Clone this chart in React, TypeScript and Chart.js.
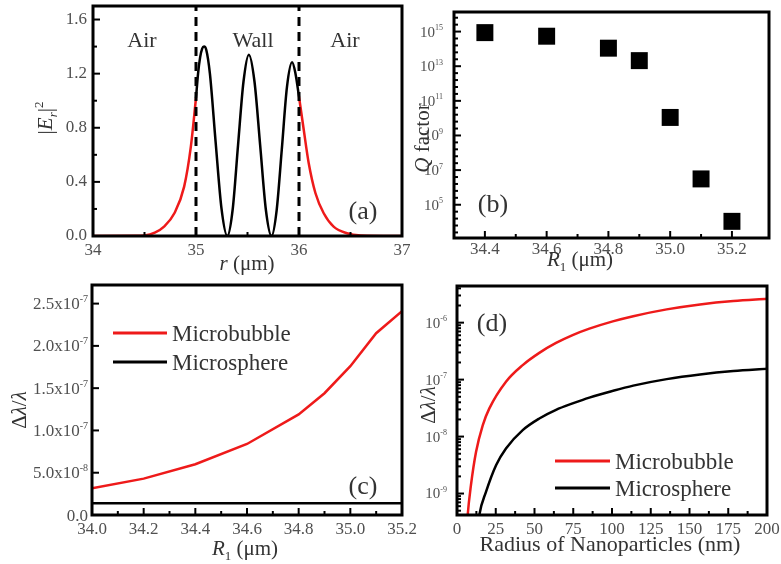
import React, { useEffect, useRef } from 'react';
import { Chart, registerables } from 'chart.js';
Chart.register(...registerables);

const FONT = '"Liberation Serif", "Times New Roman", serif';
const RED = '#ee1a1a';
const BLACK = '#000000';
const INK = '#333333';
const TICK_INK = '#505050';

// ---------- Panel (a): |E_r|^2 vs r ----------
const aRedLeftR = [34.0, 34.4, 34.5, 34.6, 34.69, 34.79, 34.885, 34.95, 35.0];
const aRedLeftE = [0, 0.001, 0.004, 0.025, 0.07, 0.168, 0.365, 0.66, 1.02];
const aRedRightR = [36.0, 36.046, 36.094, 36.16, 36.24, 36.336, 36.466, 36.6, 37.0];
const aRedRightE = [1.03, 0.785, 0.54, 0.316, 0.168, 0.069, 0.02, 0.004, 0];
const aWallR = [35.0, 35.02, 35.04, 35.06, 35.078, 35.1, 35.135, 35.19, 35.248, 35.304, 35.356, 35.408, 35.461, 35.513, 35.568, 35.623, 35.678, 35.733, 35.783, 35.833, 35.883, 35.933, 35.966, 36.0];
const aWallE = [1.02, 1.2, 1.32, 1.385, 1.4, 1.375, 1.2, 0.7, 0.2, 0.0, 0.196, 0.67, 1.14, 1.34, 1.14, 0.67, 0.196, 0.0, 0.19, 0.64, 1.1, 1.284, 1.2, 1.03];
const aBoundaries = [35, 36];
const aXTicks = [34, 35, 36, 37];
const aXLabels = ['34', '35', '36', '37'];
const aYTicks = [0, 0.4, 0.8, 1.2, 1.6];
const aYLabels = ['0.0', '0.4', '0.8', '1.2', '1.6'];

// ---------- Panel (b): Q factor vs R1 ----------
const bR1 = [34.4, 34.6, 34.8, 34.9, 35.0, 35.1, 35.2];
const bQ = [8.7e14, 5.4e14, 1.1e14, 2.1e13, 1.1e10, 3.1e6, 1.1e4];
const bXTicks = [34.4, 34.6, 34.8, 35.0, 35.2];
const bXLabels = ['34.4', '34.6', '34.8', '35.0', '35.2'];
const bYTicks = [1e5, 1e7, 1e9, 1e11, 1e13, 1e15];
const bYLabels = ['10^5', '10^7', '10^9', '10^11', '10^13', '10^15'];

// ---------- Panel (c): Δλ/λ vs R1 ----------
const cR1 = [34.0, 34.2, 34.4, 34.6, 34.8, 34.9, 35.0, 35.1, 35.2];
const cBubble = [3.15e-8, 4.3e-8, 6.0e-8, 8.4e-8, 1.19e-7, 1.44e-7, 1.76e-7, 2.15e-7, 2.41e-7];
const cSphere = [1.4e-8, 1.4e-8, 1.4e-8, 1.4e-8, 1.4e-8, 1.4e-8, 1.4e-8, 1.4e-8, 1.4e-8];
const cXTicks = [34.0, 34.2, 34.4, 34.6, 34.8, 35.0, 35.2];
const cXLabels = ['34.0', '34.2', '34.4', '34.6', '34.8', '35.0', '35.2'];
const cYTicks = [0, 5e-8, 1e-7, 1.5e-7, 2e-7, 2.5e-7];
const cYLabels = ['0.0', '5.0x10^-8', '1.0x10^-7', '1.5x10^-7', '2.0x10^-7', '2.5x10^-7'];

// ---------- Panel (d): Δλ/λ vs nanoparticle radius ----------
const dBubbleR = [5.5, 6.9, 9.0, 12.3, 16.6, 20.8, 31.6, 42.4, 53.1, 63.9, 74.6, 85.4, 100.5, 113.7, 135.3, 156.8, 178.3, 200];
const dBubble = [1e-10, 4.2e-10, 1.4e-9, 5.4e-9, 1.58e-8, 3.1e-8, 9.2e-8, 1.8e-7, 2.95e-7, 4.4e-7, 6.05e-7, 7.85e-7, 1.054e-6, 1.3e-6, 1.71e-6, 2.09e-6, 2.4e-6, 2.62e-6];
const dSphereR = [13.0, 14.4, 18.7, 25.2, 31.6, 42.4, 53.1, 63.9, 74.6, 85.4, 100.5, 113.7, 135.3, 156.8, 178.3, 200];
const dSphere = [2e-10, 4.2e-10, 1.07e-9, 3.15e-9, 6.2e-9, 1.3e-8, 2.08e-8, 2.95e-8, 3.82e-8, 4.84e-8, 6.35e-8, 7.85e-8, 1.02e-7, 1.23e-7, 1.41e-7, 1.545e-7];
const dXTicks = [0, 25, 50, 75, 100, 125, 150, 175, 200];
const dXLabels = ['0', '25', '50', '75', '100', '125', '150', '175', '200'];
const dYTicks = [1e-9, 1e-8, 1e-7, 1e-6];
const dYLabels = ['10^-9', '10^-8', '10^-7', '10^-6'];

const pts = (xs: number[], ys: number[]) => xs.map((x, i) => ({ x, y: ys[i] }));

type Seg = { t: string; i?: boolean; sub?: boolean; sup?: boolean };
type TextItem = { segs: Seg[]; x: number; y: number; size: number; rot?: boolean; align?: 'center' | 'left' | 'right'; color?: string; supScale?: number };
type LegendItem = { ds: number; x1: number; x2: number; y: number; tx: number };

interface Spec {
  x: number; y: number; w: number; h: number;
  area: { l: number; t: number; r: number; b: number };
  xPad: number; yPad: number; xFont: number; yFont: number;
  richY?: { values: number[]; labels: string[]; supScale: number };
  texts: TextItem[];
  legend: LegendItem[];
  xMajor: number[]; xMinor: number[];
  yMajor: number[]; yMinor: number[];
}

function drawRich(ctx: CanvasRenderingContext2D, it: TextItem, ox: number, oy: number) {
  ctx.save();
  ctx.translate(it.x - ox, it.y - oy);
  if (it.rot) ctx.rotate(-Math.PI / 2);
  const ss = it.supScale || 0.62;
  const fontFor = (s: Seg) => `${s.i ? 'italic ' : ''}${s.sub || s.sup ? Math.round(it.size * ss) : it.size}px ${FONT}`;
  let total = 0;
  const widths = it.segs.map((s) => {
    ctx.font = fontFor(s);
    const w = ctx.measureText(s.t).width;
    total += w;
    return w;
  });
  let x = it.align === 'left' ? 0 : it.align === 'right' ? -total : -total / 2;
  ctx.textBaseline = 'alphabetic';
  ctx.textAlign = 'left';
  ctx.fillStyle = it.color || INK;
  it.segs.forEach((s, k) => {
    ctx.font = fontFor(s);
    const dy = s.sub ? it.size * 0.22 : s.sup ? -it.size * 0.42 : 0;
    ctx.fillText(s.t, x, it.size * 0.33 + dy);
    x += widths[k];
  });
  ctx.restore();
}

function decor(spec: Spec) {
  return {
    id: 'decor',
    afterDatasetsDraw(chart: any) {
      const ctx: CanvasRenderingContext2D = chart.ctx;
      const a = chart.chartArea;
      const xs = chart.scales.x;
      const ys = chart.scales.y;
      ctx.save();
      ctx.strokeStyle = '#000';
      ctx.lineWidth = 2;
      const seg = (x1: number, y1: number, x2: number, y2: number) => {
        ctx.beginPath();
        ctx.moveTo(x1, y1);
        ctx.lineTo(x2, y2);
        ctx.stroke();
      };
      spec.xMajor.forEach((v) => { const p = xs.getPixelForValue(v); seg(p, a.bottom, p, a.bottom - 7); });
      spec.xMinor.forEach((v) => { const p = xs.getPixelForValue(v); seg(p, a.bottom, p, a.bottom - 4); });
      spec.yMajor.forEach((v) => { const p = ys.getPixelForValue(v); if (p >= a.top && p <= a.bottom) seg(a.left, p, a.left + 7, p); });
      spec.yMinor.forEach((v) => { const p = ys.getPixelForValue(v); if (p >= a.top && p <= a.bottom) seg(a.left, p, a.left + 4, p); });
      ctx.lineWidth = 3;
      ctx.strokeRect(a.left, a.top, a.right - a.left, a.bottom - a.top);
      if (spec.richY) {
        const ry = spec.richY;
        ry.values.forEach((v, i) => {
          const [base, exp] = ry.labels[i].split('^');
          const segs: Seg[] = [{ t: base }];
          if (exp) segs.push({ t: exp, sup: true });
          drawRich(ctx, {
            segs, x: a.left - spec.yPad + spec.x, y: ys.getPixelForValue(v) + spec.y,
            size: spec.yFont, align: 'right', color: TICK_INK, supScale: ry.supScale,
          }, spec.x, spec.y);
        });
      }
      spec.legend.forEach((lg) => {
        const ds = chart.data.datasets[lg.ds];
        ctx.strokeStyle = ds.borderColor;
        ctx.lineWidth = 3;
        seg(lg.x1 - spec.x, lg.y - spec.y, lg.x2 - spec.x, lg.y - spec.y);
        drawRich(ctx, { segs: [{ t: ds.label }], x: lg.tx, y: lg.y, size: 23, align: 'left' }, spec.x, spec.y);
      });
      spec.texts.forEach((t) => drawRich(ctx, t, spec.x, spec.y));
      ctx.restore();
    },
  };
}

function axis(spec: Spec, horizontal: boolean, values: number[], labels: string[], extra: any) {
  const hideLabels = !horizontal && !!spec.richY;
  return {
    ...extra,
    grid: { display: false, drawTicks: false },
    border: { display: false },
    afterBuildTicks: (s: any) => { s.ticks = values.map((v) => ({ value: v })); },
    afterFit: (s: any) => {
      if (horizontal) s.height = spec.y + spec.h - spec.area.b;
      else s.width = spec.area.l - spec.x;
      s.paddingTop = 0; s.paddingBottom = 0; s.paddingLeft = 0; s.paddingRight = 0;
    },
    ticks: {
      display: !hideLabels,
      callback: (_v: any, i: number) => labels[i],
      font: { family: FONT, size: horizontal ? spec.xFont : spec.yFont },
      color: TICK_INK,
      padding: horizontal ? spec.xPad : spec.yPad,
      maxRotation: 0,
      autoSkip: false,
    },
  };
}

function baseOptions(spec: Spec, xs: any, ys: any) {
  return {
    responsive: false,
    maintainAspectRatio: false,
    animation: false,
    devicePixelRatio: 1,
    layout: { padding: { top: spec.area.t - spec.y, right: spec.x + spec.w - spec.area.r, left: 0, bottom: 0 } },
    plugins: { legend: { display: false }, tooltip: { enabled: false } },
    scales: { x: xs, y: ys },
  };
}

const range = (a: number, b: number, s: number) => {
  const out: number[] = [];
  for (let v = a; v <= b + 1e-9; v += s) out.push(+v.toFixed(6));
  return out;
};

// ---- specs ----
const specA: Spec = {
  x: 0, y: 0, w: 420, h: 280, area: { l: 93, t: 6, r: 402, b: 236 }, xPad: 4, yPad: 6, xFont: 17, yFont: 17,
  texts: [
    { segs: [{ t: 'Air' }], x: 142, y: 40, size: 22 },
    { segs: [{ t: 'Wall' }], x: 253, y: 40, size: 22 },
    { segs: [{ t: 'Air' }], x: 345, y: 40, size: 22 },
    { segs: [{ t: '(a)' }], x: 363, y: 210, size: 26 },
    { segs: [{ t: 'r', i: true }, { t: ' (μm)' }], x: 247, y: 263, size: 21 },
    { segs: [{ t: '|' }, { t: 'E', i: true }, { t: 'r', i: true, sub: true }, { t: '|' }, { t: '2', sup: true }], x: 45, y: 118, size: 21, rot: true },
  ],
  legend: [],
  xMajor: [35, 36], xMinor: [34.5, 35.5, 36.5],
  yMajor: [0.4, 0.8, 1.2, 1.6], yMinor: [0.2, 0.6, 1.0, 1.4],
};

const specB: Spec = {
  x: 410, y: 0, w: 371, h: 280, area: { l: 454, t: 7, r: 770, b: 238 }, xPad: 1, yPad: 11, xFont: 17, yFont: 15,
  richY: { values: bYTicks, labels: bYLabels, supScale: 0.55 },
  texts: [
    { segs: [{ t: '(b)' }], x: 493, y: 203, size: 26 },
    { segs: [{ t: 'R', i: true }, { t: '1', sub: true }, { t: ' (μm)' }], x: 580, y: 259, size: 21 },
    { segs: [{ t: 'Q', i: true }, { t: ' factor' }], x: 422, y: 138, size: 21, rot: true },
  ],
  legend: [],
  xMajor: [34.4, 34.6, 34.8, 35.0, 35.2], xMinor: [34.5, 34.7, 34.9, 35.1],
  yMajor: bYTicks,
  yMinor: range(3.4, 16.2, 0.4).filter((e) => Math.abs(e - Math.round(e)) > 0.01 || Math.round(e) % 2 === 0).map((e) => Math.pow(10, e)),
};

const specC: Spec = {
  x: 0, y: 275, w: 420, h: 289, area: { l: 92, t: 285, r: 402, b: 515 }, xPad: 4, yPad: 4, xFont: 17, yFont: 17,
  richY: { values: cYTicks, labels: cYLabels, supScale: 0.6 },
  texts: [
    { segs: [{ t: '(c)' }], x: 363, y: 485, size: 26 },
    { segs: [{ t: 'R', i: true }, { t: '1', sub: true }, { t: ' (μm)' }], x: 245, y: 548, size: 21 },
    { segs: [{ t: 'Δ' }, { t: 'λ', i: true }, { t: '/' }, { t: 'λ', i: true }], x: 19, y: 410, size: 21, rot: true },
  ],
  legend: [
    { ds: 0, x1: 113, x2: 167, y: 333, tx: 172 },
    { ds: 1, x1: 113, x2: 167, y: 362, tx: 172 },
  ],
  xMajor: cXTicks, xMinor: [34.1, 34.3, 34.5, 34.7, 34.9, 35.1],
  yMajor: cYTicks, yMinor: range(0, 2.7e-7, 5e-8 / 3).filter((v) => Math.abs(v / 5e-8 - Math.round(v / 5e-8)) > 0.01),
};

const specD: Spec = {
  x: 410, y: 275, w: 371, h: 289, area: { l: 457, t: 286, r: 767, b: 515 }, xPad: 4, yPad: 10, xFont: 17, yFont: 15,
  richY: { values: dYTicks, labels: dYLabels, supScale: 0.55 },
  texts: [
    { segs: [{ t: '(d)' }], x: 492, y: 322, size: 26 },
    { segs: [{ t: 'Radius of Nanoparticles (nm)' }], x: 610, y: 544, size: 22 },
    { segs: [{ t: 'Δ' }, { t: 'λ', i: true }, { t: '/' }, { t: 'λ', i: true }], x: 428, y: 405, size: 21, rot: true },
  ],
  legend: [
    { ds: 0, x1: 555, x2: 610, y: 461, tx: 615 },
    { ds: 1, x1: 555, x2: 610, y: 488, tx: 615 },
  ],
  xMajor: dXTicks, xMinor: range(12.5, 187.5, 25),
  yMajor: dYTicks,
  yMinor: [-10, -9, -8, -7, -6].flatMap((e) => [2, 3, 4, 5, 6, 7, 8, 9].map((k) => k * Math.pow(10, e))),
};

const lineDs = (label: string, data: any[], color: string, extra: any = {}) => ({
  label, data, borderColor: color, backgroundColor: color, borderWidth: 2.5, pointRadius: 0, fill: false, ...extra,
});

function buildA() {
  const s = specA;
  return {
    type: 'line',
    data: {
      datasets: [
        lineDs('boundary1', [{ x: aBoundaries[0], y: 0 }, { x: aBoundaries[0], y: 1.7 }], BLACK, { borderDash: [9, 6], borderWidth: 3 }),
        lineDs('boundary2', [{ x: aBoundaries[1], y: 0 }, { x: aBoundaries[1], y: 1.7 }], BLACK, { borderDash: [9, 6], borderWidth: 3 }),
        lineDs('wall', pts(aWallR, aWallE), BLACK, { cubicInterpolationMode: 'monotone' }),
        lineDs('airL', pts(aRedLeftR, aRedLeftE), RED, { cubicInterpolationMode: 'monotone' }),
        lineDs('airR', pts(aRedRightR, aRedRightE), RED, { cubicInterpolationMode: 'monotone' }),
      ],
    },
    options: baseOptions(s,
      axis(s, true, aXTicks, aXLabels, { type: 'linear', min: 34, max: 37 }),
      axis(s, false, aYTicks, aYLabels, { type: 'linear', min: 0, max: 1.7 })),
    plugins: [decor(s)],
  };
}

function buildB() {
  const s = specB;
  return {
    type: 'scatter',
    data: {
      datasets: [{
        label: 'Q', data: pts(bR1, bQ), pointStyle: 'rect', pointRadius: 12, borderWidth: 0,
        backgroundColor: BLACK, borderColor: BLACK,
      }],
    },
    options: baseOptions(s,
      axis(s, true, bXTicks, bXLabels, { type: 'linear', min: 34.3, max: 35.32 }),
      axis(s, false, bYTicks, bYLabels, { type: 'logarithmic', min: 1.2e3, max: 1.35e16 })),
    plugins: [decor(s)],
  };
}

function buildC() {
  const s = specC;
  return {
    type: 'line',
    data: {
      datasets: [
        lineDs('Microbubble', pts(cR1, cBubble), RED),
        lineDs('Microsphere', pts(cR1, cSphere), BLACK),
      ],
    },
    options: baseOptions(s,
      axis(s, true, cXTicks, cXLabels, { type: 'linear', min: 34.0, max: 35.2 }),
      axis(s, false, cYTicks, cYLabels, { type: 'linear', min: 0, max: 2.72e-7 })),
    plugins: [decor(s)],
  };
}

function buildD() {
  const s = specD;
  return {
    type: 'line',
    data: {
      datasets: [
        lineDs('Microbubble', pts(dBubbleR, dBubble), RED, { cubicInterpolationMode: 'monotone' }),
        lineDs('Microsphere', pts(dSphereR, dSphere), BLACK, { cubicInterpolationMode: 'monotone' }),
      ],
    },
    options: baseOptions(s,
      axis(s, true, dXTicks, dXLabels, { type: 'linear', min: 0, max: 200 }),
      axis(s, false, dYTicks, dYLabels, { type: 'logarithmic', min: 4.2e-10, max: 4.4e-6 })),
    plugins: [decor(s)],
  };
}

function Panel({ spec, build }: { spec: Spec; build: () => any }) {
  const ref = useRef<HTMLCanvasElement>(null);
  useEffect(() => {
    const chart = new Chart(ref.current as HTMLCanvasElement, build() as any);
    return () => chart.destroy();
  }, []);
  return (
    <canvas
      ref={ref}
      width={spec.w}
      height={spec.h}
      style={{ position: 'absolute', left: spec.x, top: spec.y, width: spec.w, height: spec.h }}
    />
  );
}

export default function App() {
  return (
    <div style={{ position: 'fixed', left: 0, top: 0, width: 781, height: 564, background: '#fff', overflow: 'hidden' }}>
      <Panel spec={specA} build={buildA} />
      <Panel spec={specB} build={buildB} />
      <Panel spec={specC} build={buildC} />
      <Panel spec={specD} build={buildD} />
    </div>
  );
}
